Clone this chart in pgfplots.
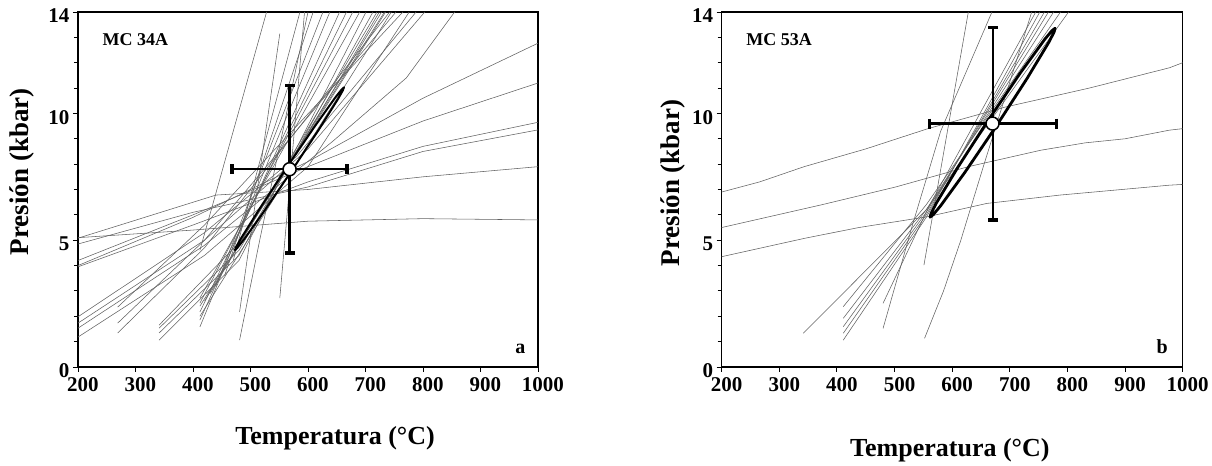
\documentclass[border=0pt]{standalone}
\usepackage{fontspec}
\setmainfont{Liberation Serif}
\usepackage{pgfplots}
\pgfplotsset{compat=1.18}
\pgfplotsset{
  pt/.style={scale only axis, height=355pt, xmin=200, xmax=1000, ymin=0, ymax=14,
    xtick={200,300,...,1000}, ytick={0,5,10,14}, minor ytick={1,2,3,4,6,7,8,9,11,12,13},
    tick align=outside, xtick pos=left, ytick pos=left,
    major tick length=5pt, minor tick length=4pt,
    tick style={black, line width=0.9pt}, axis line style={line width=1.1pt},
    /pgf/number format/assume math mode=true, /pgf/number format/1000 sep={},
    ticklabel style={font=\bfseries\fontsize{21}{21}\selectfont},
    xticklabel style={xshift=5pt, yshift=-2pt},
    yticklabel style={yshift=-4pt},
    xlabel style={font=\bfseries\fontsize{26}{26}\selectfont},
    ylabel style={font=\bfseries\fontsize{27}{27}\selectfont}},
  gl/.style={black!62, line width=0.55pt, mark=none, forget plot},
  ell/.style={black, line join=round, mark=none, forget plot},
  crsx/.style={black, mark=none, forget plot, error bars/.cd, x dir=both, x explicit,
    error mark=none, error bar style={line width=#1}},
  crsy/.style={black, mark=none, forget plot, error bars/.cd, y dir=both, y explicit,
    error mark=none, error bar style={line width=#1}},
  capv/.style={only marks, mark=|, mark size=5pt, mark options={line width=3.2pt, black}, forget plot},
  caph/.style={only marks, mark=-, mark size=5pt, mark options={line width=3.4pt, black}, forget plot},
  ctr/.style={only marks, mark=*, mark size=6.5pt, mark options={fill=white, draw=black, line width=1.5pt}, forget plot}
}
\begin{document}
\begin{tikzpicture}
\path (0pt,0pt) rectangle (1212pt,462pt);
% ---------------- panel a ----------------
\begin{axis}[pt, width=460pt, at={(78pt,95pt)}, anchor=south west,
  xlabel={Temperatura (°C)}, ylabel={Presión (kbar)},
  xlabel style={at={(axis description cs:0.559,-0.2)}, anchor=center},
  ylabel style={at={(axis description cs:-0.122,0.55)}, anchor=center}]
% shallow reactions
\addplot[gl] coordinates {(200,4.0) (400,5.9) (600,8.1) (800,10.6) (1000,12.77)};
\addplot[gl] coordinates {(200,4.2) (400,6.0) (600,7.9) (800,9.7) (1000,11.2)};
\addplot[gl] coordinates {(200,3.95) (400,5.6) (600,7.3) (800,8.7) (1000,9.65)};
\addplot[gl] coordinates {(200,4.85) (400,6.1) (600,7.1) (800,8.5) (1000,9.35)};
\addplot[gl] coordinates {(200,5.08) (440,6.78) (600,7.0) (800,7.5) (1000,7.9)};
\addplot[gl] coordinates {(200,5.1) (400,5.4) (600,5.75) (800,5.85) (1000,5.8)};
% steep fan
\addplot[gl] coordinates {(200,1.98) (420,5.3) (580,8.3) (788,14)};
\addplot[gl] coordinates {(200,1.73) (420,5.0) (600,8.6) (803,14)};
\addplot[gl] coordinates {(200,1.53) (420,4.8) (643,8.9) (771,11.4) (855,14)};
\addplot[gl] coordinates {(200,1.18) (420,4.4) (600,7.9) (776,14)};
\addplot[gl] coordinates {(269,2.36) (420,5.6) (765,14)};
\addplot[gl] coordinates {(269,1.73) (420,5.0) (753,14)};
\addplot[gl] coordinates {(269,1.34) (420,4.7) (742,14)};
\addplot[gl] coordinates {(341,1.65) (480,4.9) (733,14)};
\addplot[gl] coordinates {(341,1.53) (480,4.6) (724,14)};
\addplot[gl] coordinates {(341,1.34) (480,4.4) (713,14)};
\addplot[gl] coordinates {(341,1.06) (480,4.2) (701,14)};
\addplot[gl] coordinates {(412,2.72) (690,14)};
\addplot[gl] coordinates {(412,2.52) (678,14)};
\addplot[gl] coordinates {(412,2.17) (667,14)};
\addplot[gl] coordinates {(412,1.85) (655,14)};
\addplot[gl] coordinates {(412,1.58) (638,14)};
\addplot[gl] coordinates {(412,2.4) (735,14)};
\addplot[gl] coordinates {(412,2.0) (745,14)};
\addplot[gl] coordinates {(420,2.6) (728,14)};
\addplot[gl] coordinates {(430,2.9) (720,14)};
\addplot[gl] coordinates {(440,3.2) (626,14)};
\addplot[gl] coordinates {(455,3.6) (609,14)};
\addplot[gl] coordinates {(470,4.2) (586,14)};
\addplot[gl] coordinates {(412,4.6) (528,14)};
\addplot[gl] coordinates {(481,2.17) (551,13.15)};
\addplot[gl] coordinates {(551,2.72) (569,7.4) (594,14)};
\addplot[gl] coordinates {(481,1.06) (516,5.0) (600,14)};
% ellipse
\addplot[ell, line width=2pt] coordinates {(662.6,11.03) (660.5,10.903) (652.1,10.567) (619.0,9.368) (572.1,7.754) (524.2,6.158) (487.9,5.007) (477.3,4.703) (473.0,4.61) (475.1,4.737) (483.5,5.073) (516.7,6.272) (563.5,7.886) (611.5,9.482) (647.7,10.633) (658.3,10.937)} -- cycle;
% cross
\addplot[crsx=2.4pt] coordinates {(568,7.8) +- (100,0)};
\addplot[crsy=3.6pt] coordinates {(568,7.8) +- (0,3.3)};
\addplot[capv] coordinates {(468,7.8) (668,7.8)};
\addplot[caph] coordinates {(568,4.5) (568,11.1)};
\addplot[ctr] coordinates {(568,7.8)};
\node[anchor=base west, font=\bfseries\fontsize{18}{18}\selectfont] at (rel axis cs:0.046,0.905) {MC 34A};
\node[anchor=base east, font=\bfseries\fontsize{20}{20}\selectfont] at (rel axis cs:0.98,0.039) {a};
\end{axis}
% ---------------- panel b ----------------
\begin{axis}[pt, width=461pt, at={(721.7pt,95pt)}, anchor=south west,
  xlabel={Temperatura (°C)}, ylabel={Presión (kbar)},
  xlabel style={at={(axis description cs:0.495,-0.234)}, anchor=center},
  ylabel style={at={(axis description cs:-0.106,0.518)}, anchor=center}]
\addplot[gl] coordinates {(200,6.9) (266,7.3) (343,7.9) (450,8.6) (558,9.4) (692,10.25) (838,11.0) (977,11.8) (1000,12.0)};
\addplot[gl] coordinates {(200,5.5) (374,6.4) (502,7.1) (628,7.9) (754,8.55) (831,8.84) (900,9.0) (977,9.34) (1000,9.4)};
\addplot[gl] coordinates {(200,4.35) (343,5.07) (438,5.5) (558,5.93) (660,6.45) (787,6.78) (914,7.04) (977,7.17) (1000,7.2)};
\addplot[gl] coordinates {(341.7,1.33) (555,6.2) (802,14)};
\addplot[gl] coordinates {(411,2.38) (555,6.4) (788,14)};
\addplot[gl] coordinates {(411,1.92) (555,6.2) (776,14)};
\addplot[gl] coordinates {(411,1.59) (555,6.1) (767,14)};
\addplot[gl] coordinates {(411,1.33) (555,6.0) (760,14)};
\addplot[gl] coordinates {(411,1.06) (555,5.9) (752,14)};
\addplot[gl] coordinates {(480,2.51) (560,6.35) (745,14)};
\addplot[gl] coordinates {(480,1.52) (532,5.67) (580,9.3) (669,14)};
\addplot[gl] coordinates {(551,4.02) (628,14)};
\addplot[gl] coordinates {(552,1.13) (585,3.0) (615,5.0) (654,7.9) (738,14)};
\addplot[ell, line width=2.8pt] coordinates {(778.6,13.36) (776.8,13.205) (767.7,12.806) (730.6,11.403) (677.3,9.526) (622.1,7.678) (579.8,6.354) (567.2,6.009) (561.6,5.91) (563.4,6.065) (572.5,6.464) (609.6,7.867) (662.9,9.744) (718.1,11.592) (760.4,12.916) (773.0,13.261)} -- cycle;
\addplot[crsx=3.4pt] coordinates {(671,9.6) +- (110,0)};
\addplot[crsy=2.4pt] coordinates {(671,9.6) +- (0,3.8)};
\addplot[capv] coordinates {(561,9.6) (781,9.6)};
\addplot[caph] coordinates {(671,5.8) (671,13.4)};
\addplot[ctr] coordinates {(670,9.6)};
\node[anchor=base west, font=\bfseries\fontsize{18}{18}\selectfont] at (rel axis cs:0.046,0.905) {MC 53A};
\node[anchor=base east, font=\bfseries\fontsize{20}{20}\selectfont] at (rel axis cs:0.975,0.039) {b};
\end{axis}
\end{tikzpicture}
\end{document}
